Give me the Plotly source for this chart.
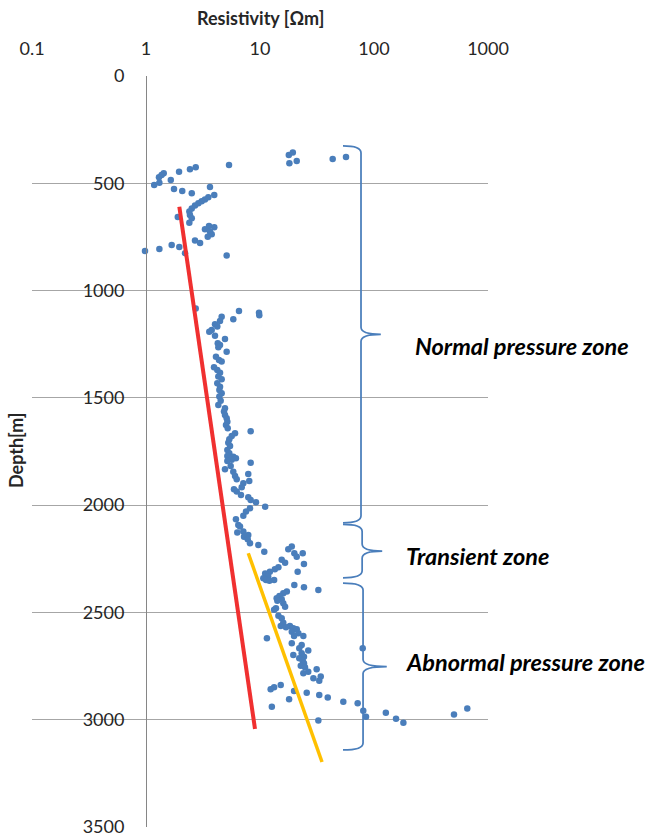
import plotly.graph_objects as go

# ---------------- data ----------------
resistivity = [
    17.9, 19.4, 18.1, 21.0, 43.4, 56.8,
    5.35, 2.73, 2.43, 1.95, 1.43, 1.37, 1.30, 1.65, 1.31, 1.18, 3.64, 1.76, 2.08, 2.52,
    3.97, 3.52, 3.29, 3.08, 2.88, 2.69, 2.52, 2.40, 2.43, 1.90, 2.52, 2.40, 3.57, 3.97,
    3.29, 3.64, 3.77, 3.48, 2.69, 2.98, 1.68, 1.96, 1.31, 0.98, 2.20, 5.10,
    2.73, 6.54, 9.80, 9.86, 4.61, 5.83, 4.46, 4.03, 4.22, 3.77, 3.59, 4.03, 4.93, 4.26,
    4.46, 4.31, 5.10, 4.11, 4.37, 4.61, 3.95, 4.22, 4.46, 4.31, 4.61, 4.22, 4.46, 4.40,
    4.61, 4.40, 4.52, 4.31, 4.93,
    4.83, 4.93, 5.10, 5.17, 5.03, 5.21, 8.28, 6.04, 5.65, 5.38, 5.27, 5.46, 5.17, 5.38,
    5.17, 5.83, 6.15, 5.65, 5.17, 8.28, 5.53, 4.93, 5.83, 7.89, 6.04, 6.25, 8.05, 7.14,
    6.91, 5.91, 6.25, 6.81, 7.89, 8.28, 9.22, 11.1, 8.17, 7.54, 7.14, 6.15,
    6.45, 6.68, 7.14, 6.32, 7.89, 7.24, 7.80, 8.17, 9.67, 19.0, 17.7, 10.9, 20.0, 23.7,
    21.0, 15.5, 16.6, 24.3, 14.5, 13.5, 12.2, 21.4, 11.1, 11.8, 10.7, 11.3, 13.3, 12.1,
    20.0, 24.3, 32.5, 17.2, 16.0, 14.8, 14.0, 15.5, 14.2, 16.0, 16.6, 13.8, 13.3, 14.5,
    15.5, 16.0, 15.2, 18.3, 16.9, 19.6, 21.0, 19.0, 21.7, 19.9, 24.0, 11.5,
    19.0, 23.2, 22.1, 79.6, 26.5, 23.2, 19.6, 24.3, 22.1, 23.7, 24.3, 22.8, 24.8, 31.4,
    26.5, 24.0, 34.1, 29.4, 33.1, 15.2, 13.3, 12.4, 19.9, 25.7, 33.1, 39.3, 18.0, 53.8,
    71.9, 12.7, 658, 80.5, 127, 503, 85.1, 156, 32.5, 181,
]
depth = [
    368, 357, 407, 396, 387, 377,
    415, 425, 435, 446, 453, 461, 472, 485, 497, 508, 517, 527, 536, 547,
    555, 565, 575, 584, 593, 603, 617, 632, 648, 657, 663, 684, 699, 705,
    714, 726, 738, 749, 767, 778, 788, 797, 806, 815, 826, 836,
    1083, 1095, 1103, 1115, 1122, 1134, 1142, 1157, 1168, 1184, 1192, 1210, 1226, 1246,
    1254, 1264, 1285, 1308, 1323, 1331, 1357, 1370, 1383, 1401, 1413, 1432, 1448, 1463,
    1479, 1494, 1513, 1533, 1549,
    1564, 1580, 1595, 1611, 1626, 1642, 1656, 1665, 1678, 1693, 1709, 1724, 1743, 1758,
    1771, 1774, 1782, 1789, 1794, 1802, 1817, 1833, 1844, 1855, 1864, 1879, 1887, 1898,
    1917, 1926, 1937, 1953, 1963, 1976, 1987, 2007, 2015, 2030, 2050, 2066,
    2092, 2100, 2123, 2128, 2139, 2147, 2159, 2178, 2186, 2193, 2206, 2217, 2224, 2224,
    2240, 2255, 2268, 2274, 2289, 2299, 2310, 2310, 2318, 2333, 2341, 2349, 2349, 2352,
    2372, 2383, 2395, 2403, 2411, 2423, 2434, 2439, 2445, 2457, 2473, 2480, 2488, 2516,
    2527, 2548, 2563, 2563, 2569, 2574, 2578, 2590, 2597, 2610, 2610, 2620,
    2644, 2652, 2667, 2667, 2678, 2690, 2698, 2706, 2714, 2725, 2737, 2749, 2755, 2765,
    2776, 2783, 2799, 2807, 2818, 2838, 2849, 2858, 2866, 2874, 2885, 2897, 2905, 2916,
    2923, 2939, 2948, 2958, 2967, 2976, 2986, 2996, 3004, 3014,
]

# normal compaction trend (red) and abnormal trend (orange)
red_res = [1.96, 9.04]
red_depth = [609, 3043]
orange_res = [7.89, 35.0]
orange_depth = [2224, 3197]

x_tickvals = [0.1, 1, 10, 100, 1000]
x_ticktext = ["0.1", "1", "10", "100", "1000"]
y_tickvals = [0, 500, 1000, 1500, 2000, 2500, 3000, 3500]

zones = [
    # label, top depth, bottom depth, label depth
    ("Normal pressure zone", 326, 2083, 1257),
    ("Transient zone", 2090, 2339, 2235),
    ("Abnormal pressure zone", 2363, 3141, 2733),
]

# ---------------- figure ----------------
FONT = "Lato, 'Open Sans', sans-serif"
TXT = "#262626"
BLUE = "#4a7ebb"

fig = go.Figure()
fig.add_trace(go.Scatter(
    x=resistivity, y=depth, mode="markers",
    marker=dict(color=BLUE, size=6.5, line=dict(width=0)),
    showlegend=False, cliponaxis=False,
))
fig.add_trace(go.Scatter(
    x=red_res, y=red_depth, mode="lines",
    line=dict(color="#f03030", width=4), showlegend=False,
))
fig.add_trace(go.Scatter(
    x=orange_res, y=orange_depth, mode="lines",
    line=dict(color="#ffc000", width=3.5), showlegend=False,
))

# braces (x in paper units, y in depth units)
brace_geom = [
    (0.682, 0.7215, 0.765),
    (0.682, 0.724, 0.768),
    (0.682, 0.726, 0.778),
]
label_x = [0.8355, 0.8158, 0.8158]
r = 33
shapes = []
annotations = []
for (label, top, bot, ly), (xl, xv, xt), lx in zip(zones, brace_geom, label_x):
    mid = (top + bot) / 2
    path = (f"M {xl},{top} Q {xv},{top} {xv},{top + r} "
            f"L {xv},{mid - r} Q {xv},{mid} {xt},{mid} "
            f"Q {xv},{mid} {xv},{mid + r} "
            f"L {xv},{bot - r} Q {xv},{bot} {xl},{bot}")
    shapes.append(dict(type="path", path=path, xref="paper", yref="y",
                       line=dict(color=BLUE, width=1.75)))
    annotations.append(dict(
        text=f"<b><i>{label}</i></b>", x=lx, y=ly, xref="paper", yref="y",
        xanchor="left", yanchor="middle", showarrow=False,
        font=dict(family=FONT, size=23.5, color="#000000"),
    ))

annotations.append(dict(
    text="<b>Resistivity [Ωm]</b>", x=0.5, y=1.0772, xref="paper", yref="paper",
    xanchor="center", yanchor="middle", showarrow=False,
    font=dict(family=FONT, size=18, color=TXT),
))
annotations.append(dict(
    text="<b>Depth[m]</b>", x=-0.035, y=0.502, xref="paper", yref="paper",
    xanchor="center", yanchor="middle", showarrow=False, textangle=-90,
    font=dict(family=FONT, size=18, color=TXT),
))

fig.update_layout(
    width=645, height=838, autosize=False,
    margin=dict(l=32, r=157, t=76, b=11, pad=0),
    paper_bgcolor="white", plot_bgcolor="white",
    font=dict(family=FONT, color=TXT),
    shapes=shapes, annotations=annotations,
    xaxis=dict(
        type="log", range=[-1, 3], side="top",
        tickvals=x_tickvals, ticktext=x_ticktext,
        showgrid=False, zeroline=False, showline=False, ticks="",
        ticklabelstandoff=16, automargin=False,
        tickfont=dict(family=FONT, size=18, color=TXT),
    ),
    yaxis=dict(
        range=[3500, 0], tickvals=y_tickvals,
        anchor="free", position=0.25, automargin=False,
        showgrid=True, gridcolor="#a6a6a6", gridwidth=1,
        zeroline=False, showline=True, linecolor="#868686", linewidth=1,
        ticks="", ticklabelstandoff=18,
        tickfont=dict(family=FONT, size=18, color=TXT),
    ),
)

fig.write_html("out.html")
